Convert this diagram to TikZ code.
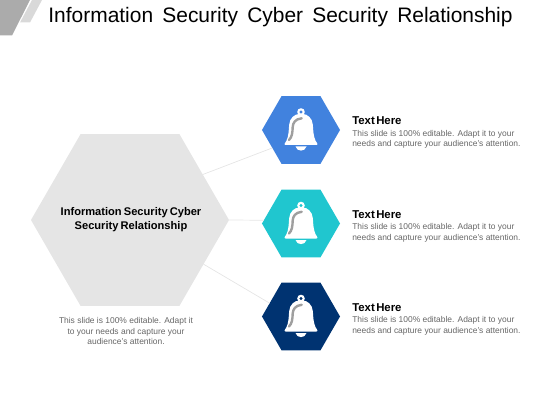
\documentclass[tikz,border=0pt]{standalone}
\usepackage{fontspec}
\setmainfont{Liberation Sans}
\usetikzlibrary{shapes.geometric}

\begin{document}
\begin{tikzpicture}[x=0.025cm, y=-0.025cm]
    \tikzset{
        bell/.pic={
                \fill[white, even odd rule] (0, -18) circle (3.8) (0, -18) circle (1.8);
                \fill[white, rounded corners=1.5] (-17.5, 15) .. controls (-13.5, 10) and (-12.5, 5) .. (-12, -3) .. controls (-11.5, -12) and (-6, -16) .. (0, -16) .. controls (6, -16) and (11.5, -12) .. (12, -3) .. controls (12.5, 5) and (13.5, 10) .. (17.5, 15) -- cycle;
                \fill[white] (-5.5, 16.5) .. controls (-4, 22) and (4, 22) .. (5.5, 16.5) -- cycle;
                \draw[gray!75, line width=1.7pt, line cap=round] (0.7, -11.7) .. controls (-6, -11) and (-8, -7) .. (-8.3, -3) .. controls (-8.5, 3) and (-9, 7) .. (-12, 10);
            },
        hexagon/.style={
                regular polygon, regular polygon sides=6, inner sep=0pt, outer sep=0pt
            },
        small hex/.style={
                hexagon, minimum size=1.95cm
            },
        link/.style={
                draw=black!10, line width=0.5pt
            },
        heading/.style={
                font={\fontsize{8.1}{9}\selectfont\bfseries\spaceskip=1pt\relax}, anchor=west, inner sep=0pt, text=black
            },
        blurb/.style={
                font=\fontsize{6}{7.4}\selectfont, text=black!60, inner sep=0pt, align=left, anchor=west
            }
    }
    \useasboundingbox (0, 0) rectangle (560, 420);

    % Corner marks
    \fill[black!33] (0, 0) -- (30, 0) -- (12, 35.5) -- (0, 35.5) -- cycle;
    \fill[black!15] (32, 0) -- (42, 0) -- (30, 22.5) -- (20, 22.5) -- cycle;

    \node[font={\fontsize{14.9}{18}\selectfont\spaceskip=6.55pt\relax}, inner sep=0pt] (title) at (280.5, 17) {Information Security Cyber Security Relationship};

    \node[hexagon, fill=black!10, minimum size=4.95cm] (main) at (130, 220) {};
    \node[align=center, inner sep=0pt, font={\fontsize{7.9}{10}\selectfont\bfseries\spaceskip=1.5pt\relax}] (main label) at (131, 220) {Information Security Cyber\\Security Relationship};
    \node[small hex, fill={rgb,255:red,65;green,130;blue,222}] (upper) at (301, 130) {};
    \node[small hex, fill={rgb,255:red,32;green,198;blue,207}] (middle) at (301, 223.5) {};
    \node[small hex, fill={rgb,255:red,0;green,51;blue,113}] (lower) at (301, 316.5) {};

    \draw[link] (main.32) -- (upper.212);
    \draw[link] (main.0) -- (middle.175);
    \draw[link] (main.-31) -- (lower.157);

    \pic at (301, 130) {bell};
    \pic at (301, 223.5) {bell};
    \pic at (301, 316.5) {bell};

    \node[heading] (upper head) at (352, 120.5) {Text Here};
    \node[blurb] (upper text) at (352, 139.5) {This slide is 100\% editable. Adapt it to your\\needs and capture your audience's attention.};
    \node[heading] (middle head) at (352, 214.5) {Text Here};
    \node[blurb] (middle text) at (352, 233) {This slide is 100\% editable. Adapt it to your\\needs and capture your audience's attention.};
    \node[heading] (lower head) at (352, 307.5) {Text Here};
    \node[blurb] (lower text) at (352, 326) {This slide is 100\% editable. Adapt it to your\\needs and capture your audience's attention.};

    \node[blurb, anchor=center, align=center] (caption) at (126, 331) {This slide is 100\% editable. Adapt it\\to your needs and capture your\\audience's attention.};
\end{tikzpicture}
\end{document}
